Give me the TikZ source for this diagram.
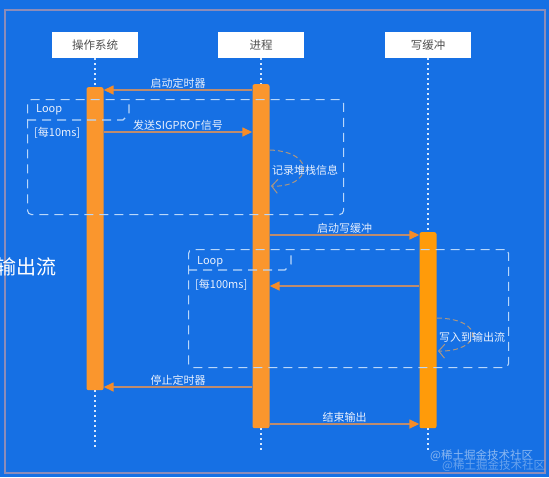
\documentclass[tikz,border=0pt]{standalone}
\usepackage{fontspec}
\setmainfont{Noto Sans CJK SC}
\usetikzlibrary{arrows.meta}
\definecolor{bgc}{RGB}{22,112,228}
\definecolor{barc}{RGB}{250,150,45}
\definecolor{barw}{RGB}{255,155,10}
\definecolor{msgline}{RGB}{190,140,110}
\definecolor{msghead}{RGB}{245,140,40}
\definecolor{loopc}{RGB}{185,215,250}
\definecolor{selfc}{RGB}{170,150,130}
\definecolor{framec}{RGB}{140,140,185}
\definecolor{lblc}{RGB}{232,240,253}
\definecolor{lifec}{RGB}{215,232,255}
\definecolor{hdrtext}{RGB}{80,80,80}
\begin{document}
\begin{tikzpicture}[x=1pt,y=-1pt,
  hdr/.style={fill=white, minimum width=86pt, minimum height=26pt, inner sep=0pt, text=hdrtext, font=\fontsize{11.5}{13}\selectfont},
  actbar/.style={fill=#1, rounded corners=2pt, minimum width=17pt, inner sep=0pt, anchor=north},
  lifeline/.style={draw=lifec, line width=2pt, dash pattern=on 2pt off 3pt},
  msg/.style={draw=msgline, line width=1.5pt, -{Triangle[length=10pt,width=9pt,color=msghead]}},
  msglbl/.style={text=lblc, font=\fontsize{11}{13}\selectfont, inner sep=1pt},
  loopbox/.style={draw=loopc, line width=1.1pt, dash pattern=on 9pt off 6pt},
  looptxt/.style={text=lblc, font=\fontsize{11}{13}\selectfont, inner sep=0pt, anchor=west},
  selfmsg/.style={draw=selfc, line width=1pt, dash pattern=on 5pt off 3pt, -{Straight Barb[length=6pt,width=14pt]}},
  wmark/.style={text=white, font=\fontsize{11.5}{13}\selectfont, inner sep=0pt, anchor=west}
]
\clip (0,0) rectangle (549,477);
\fill[bgc] (0,0) rectangle (549,477);
\draw[framec, line width=1.2pt] (5,10) rectangle (545,473);

% headers
\node[hdr] (os) at (95,45) {操作系统};
\node[hdr] (proc) at (261,45) {进程};
\node[hdr] (wbuf) at (428,45) {写缓冲};

% activation bars
\node[actbar=barc, minimum height=303pt] (osbar) at (95,87) {};
\node[actbar=barc, minimum height=344pt] (pbar) at (261,84) {};
\node[actbar=barw, minimum height=196pt] (wbar) at (428,232) {};

% lifelines
\coordinate (osend) at (95,450);
\coordinate (pend) at (261,450);
\coordinate (wend) at (428,450);
\draw[lifeline] (os.south) -- (osbar.north);
\draw[lifeline] (osbar.south) -- (osend);
\draw[lifeline] (proc.south) -- (pbar.north);
\draw[lifeline] (pbar.south) -- (pend);
\draw[lifeline] (wbuf.south) -- (wbar.north);
\draw[lifeline] (wbar.south) -- (wend);

% loop frames
\node[loopbox, rounded corners=4pt, minimum width=316pt, minimum height=115pt, anchor=north west, inner sep=0pt] (loop1) at (27,99) {};
\coordinate (l1a) at (27,120);
\coordinate (l1b) at (123,120);
\coordinate (l1c) at (129,114);
\coordinate (l1d) at (129,99);
\draw[loopbox] (l1a) -- (l1b) -- (l1c) -- (l1d);
\node[looptxt] (loop1t) at (36,110) {Loop};
\node[looptxt] (loop1c) at (34,133) {[每10ms]};

\node[loopbox, rounded corners=4pt, minimum width=320pt, minimum height=118pt, anchor=north west, inner sep=0pt] (loop2) at (188,249) {};
\coordinate (l2a) at (188,270);
\coordinate (l2b) at (285,270);
\coordinate (l2c) at (291,264);
\coordinate (l2d) at (291,249);
\draw[loopbox] (l2a) -- (l2b) -- (l2c) -- (l2d);
\node[looptxt] (loop2t) at (197,262) {Loop};
\node[looptxt] (loop2c) at (195,285) {[每100ms]};

% messages
\coordinate (m1) at (0,90);
\coordinate (m2) at (0,132);
\coordinate (m3) at (0,235);
\coordinate (m4) at (0,286);
\coordinate (m5) at (0,387);
\coordinate (m6) at (0,424);
\draw[msg] (pbar.west |- m1) -- node[msglbl, above] {启动定时器} (osbar.east |- m1);
\draw[msg] (osbar.east |- m2) -- node[msglbl, above] {发送SIGPROF信号} (pbar.west |- m2);
\draw[msg] (pbar.east |- m3) -- node[msglbl, above] {启动写缓冲} (wbar.west |- m3);
\draw[msg] (wbar.west |- m4) -- (pbar.east |- m4);
\draw[msg] (pbar.west |- m5) -- node[msglbl, above] {停止定时器} (osbar.east |- m5);
\draw[msg] (pbar.east |- m6) -- node[msglbl, above] {结束输出} (wbar.west |- m6);

% self messages
\coordinate (s1a) at (270,150);
\coordinate (s1b) at (271,186);
\draw[selfmsg] (s1a) .. controls +(48,2) and +(40,2) .. (s1b);
\node[msglbl] (s1l) at (305,170) {记录堆栈信息};
\coordinate (s2a) at (437,318);
\coordinate (s2b) at (438,351);
\draw[selfmsg] (s2a) .. controls +(50,1) and +(43,1) .. (s2b);
\node[msglbl] (s2l) at (472,337) {写入到输出流};

% stray big text at left edge (cut off in the reference too)
\node[text=white, font=\fontsize{20}{24}\selectfont, anchor=east, inner sep=0pt] (bigtxt) at (57,267) {输出流};

% watermark
\node[wmark, opacity=0.5] (wm1) at (430,456) {@稀土掘金技术社区};
\node[wmark, opacity=0.35] (wm2) at (442,466) {@稀土掘金技术社区};
\end{tikzpicture}
\end{document}
